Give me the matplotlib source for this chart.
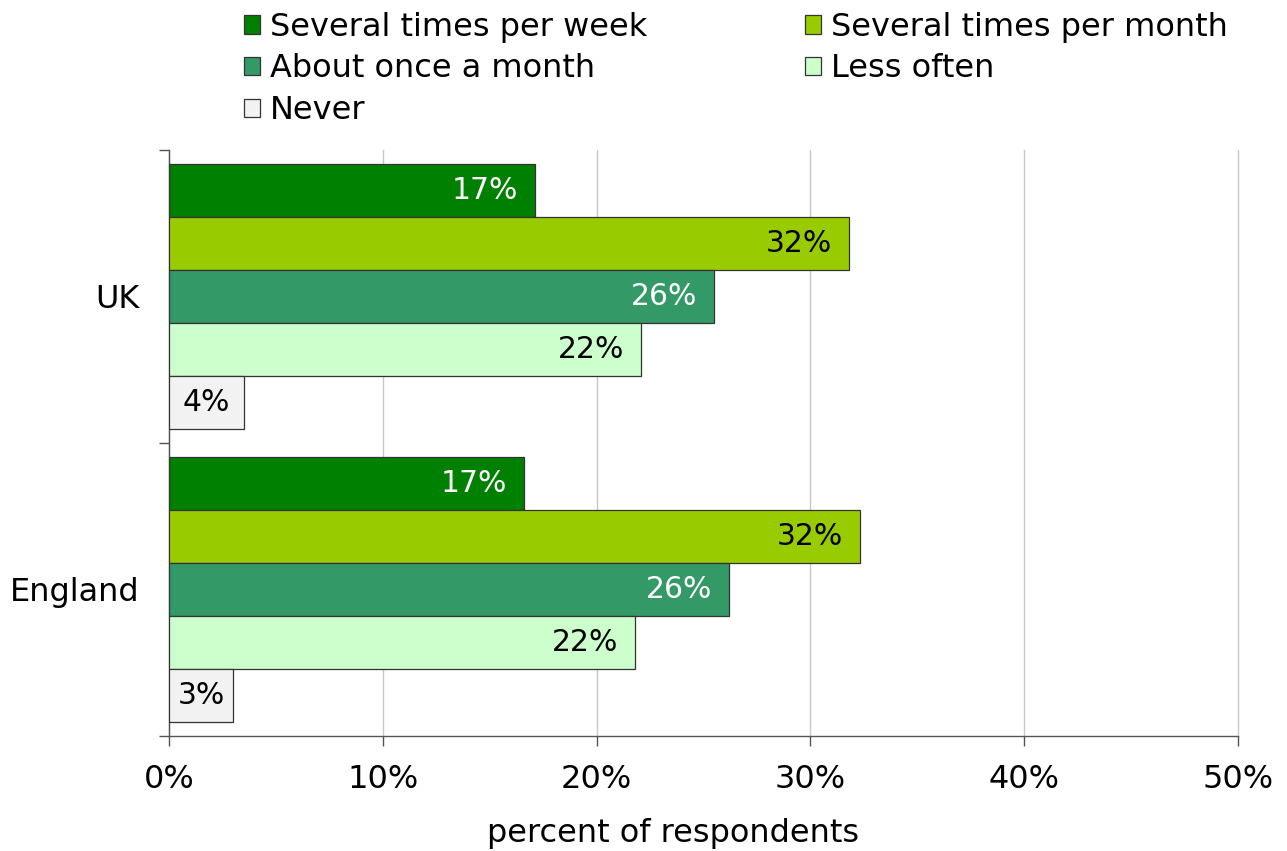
import matplotlib
matplotlib.use("Agg")
import matplotlib.pyplot as plt
from matplotlib.patches import Patch
import numpy as np

categories = ["UK", "England"]
series = ["Several times per week", "Several times per month", "About once a month", "Less often", "Never"]
values = {
    "Several times per week": [17.1, 16.6],
    "Several times per month": [31.8, 32.3],
    "About once a month": [25.5, 26.2],
    "Less often": [22.1, 21.8],
    "Never": [3.5, 3.0],
}
labels = {
    "Several times per week": ["17%", "17%"],
    "Several times per month": ["32%", "32%"],
    "About once a month": ["26%", "26%"],
    "Less often": ["22%", "22%"],
    "Never": ["4%", "3%"],
}
colors = ["#008000", "#99CC00", "#339966", "#CCFFCC", "#F2F2F2"]
text_colors = ["white", "black", "white", "black", "black"]
xticks = [0, 10, 20, 30, 40, 50]
xticklabels = ["0%", "10%", "20%", "30%", "40%", "50%"]

plt.rcParams['font.family'] = ['DejaVu Sans']
fig = plt.figure(figsize=(12.87, 8.51), dpi=100)
ax = fig.add_axes([169/1287, 1 - 736/851, (1238 - 169)/1287, (736 - 150)/851])

h = 0.904 / 5
y = np.arange(len(categories))
for i, s in enumerate(series):
    ys = y + (i - 2) * h
    bars = ax.barh(ys, values[s], height=h, color=colors[i], edgecolor="#333333",
                   linewidth=0.9, zorder=3)
    for b, v, lab in zip(bars, values[s], labels[s]):
        cy = b.get_y() + b.get_height() / 2
        if v < 5:
            ax.text(v / 2, cy, lab, ha="center", va="center", fontsize=21.5,
                    color=text_colors[i], zorder=4)
        else:
            ax.annotate(lab, (v, cy), xytext=(-17, 0), textcoords="offset pixels",
                        ha="right", va="center", fontsize=21.5, color=text_colors[i], zorder=4)

ax.set_xlim(0, 50)
ax.set_ylim(1.5, -0.5)
ax.set_xticks(xticks)
ax.set_xticklabels(xticklabels, fontsize=23)
ax.set_yticks([-0.5, 0.5, 1.5])
ax.set_yticklabels([])
ax.set_yticks(y, minor=True)
ax.set_yticklabels(categories, minor=True, fontsize=23)
ax.tick_params(axis="y", which="minor", length=0, pad=21.5)
ax.tick_params(axis="y", which="major", length=7, width=1, color="#555555")
ax.tick_params(axis="x", length=7, width=1, color="#555555", pad=13)
ax.grid(axis="x", color="#C8C8C8", linewidth=1, zorder=0)
for gl in ax.xaxis.get_gridlines():
    gl.set_clip_on(False)
for sp in ["top", "right"]:
    ax.spines[sp].set_visible(False)
for sp in ["left", "bottom"]:
    ax.spines[sp].set_color("#555555")
    ax.spines[sp].set_linewidth(1)
ax.set_xlabel("percent of respondents", fontsize=23, labelpad=17)
ax.xaxis.label.set_x((673 - 169) / (1238 - 169))

handles = [Patch(facecolor=c, edgecolor="#333333", linewidth=0.9) for c in colors]
order = [0, 2, 4, 1, 3]
fig.legend([handles[k] for k in order], [series[k] for k in order],
           loc="upper left", bbox_to_anchor=(238/1287, 1 - 5.5/851), ncol=2, frameon=False,
           fontsize=23, handlelength=0.5, handleheight=0.5, handletextpad=0.3,
           labelspacing=0.33, columnspacing=4.95, borderaxespad=0, borderpad=0.2)

fig.savefig("out.png", dpi=100)
